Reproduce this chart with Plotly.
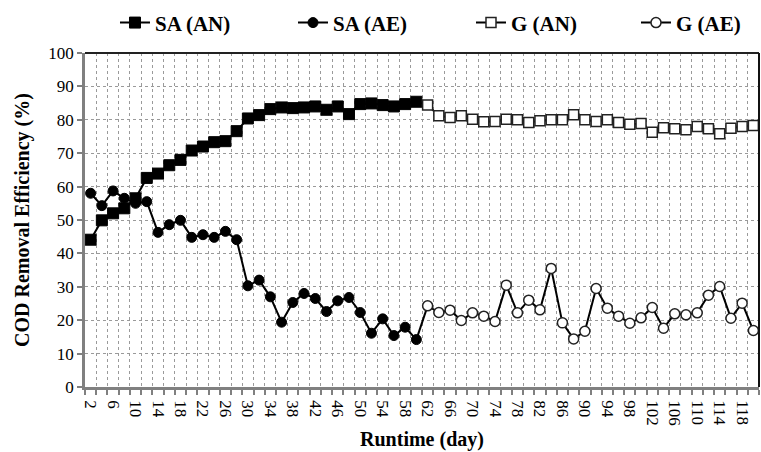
import plotly.graph_objects as go

# ---------------- data ----------------
days_sa = [2, 4, 6, 8, 10, 12, 14, 16, 18, 20, 22, 24, 26, 28, 30,
           32, 34, 36, 38, 40, 42, 44, 46, 48, 50, 52, 54, 56, 58, 60]
days_g = [62, 64, 66, 68, 70, 72, 74, 76, 78, 80, 82, 84, 86, 88, 90,
          92, 94, 96, 98, 100, 102, 104, 106, 108, 110, 112, 114, 116, 118, 120]

sa_an = [44.1, 49.9, 52.0, 53.5, 56.5, 62.6, 63.9, 66.4, 68.0, 70.8,
         72.0, 73.3, 73.6, 76.6, 80.4, 81.4, 83.2, 83.7, 83.5, 83.7,
         84.0, 83.0, 84.0, 81.7, 84.7, 84.9, 84.4, 84.0, 84.7, 85.4]
sa_ae = [58.0, 54.3, 58.7, 56.5, 55.0, 55.5, 46.3, 48.6, 49.9, 44.8,
         45.6, 44.8, 46.6, 44.1, 30.3, 32.0, 27.0, 19.4, 25.3, 28.0,
         26.5, 22.6, 25.8, 26.8, 22.3, 16.1, 20.4, 15.4, 17.9, 14.2]
g_an = [84.4, 81.2, 80.7, 81.2, 80.2, 79.4, 79.5, 80.2, 80.0, 79.2,
        79.7, 80.0, 80.0, 81.5, 80.0, 79.5, 80.0, 79.2, 78.7, 78.9,
        76.3, 77.6, 77.3, 77.0, 78.0, 77.3, 75.8, 77.5, 78.0, 78.3]
g_ae = [24.3, 22.3, 23.0, 19.9, 22.2, 21.2, 19.6, 30.5, 22.2, 26.0,
        23.1, 35.5, 19.2, 14.4, 16.7, 29.5, 23.6, 21.2, 19.1, 20.7,
        23.8, 17.6, 21.9, 21.6, 22.2, 27.5, 30.1, 20.6, 25.1, 16.9]

x_tick_vals = [2, 6, 10, 14, 18, 22, 26, 30, 34, 38, 42, 46, 50, 54, 58,
               62, 66, 70, 74, 78, 82, 86, 90, 94, 98, 102, 106, 110, 114, 118]
y_tick_vals = [0, 10, 20, 30, 40, 50, 60, 70, 80, 90, 100]

FONT = "Liberation Serif, Times New Roman, DejaVu Serif, serif"
LINE = dict(color="black", width=2)

fig = go.Figure()

# connectors between the two phases (from the arrays' end/start values)
fig.add_trace(go.Scatter(x=[days_sa[-1], days_g[0]], y=[sa_an[-1], g_an[0]],
                         mode="lines", line=LINE, showlegend=False, hoverinfo="skip"))
fig.add_trace(go.Scatter(x=[days_sa[-1], days_g[0]], y=[sa_ae[-1], g_ae[0]],
                         mode="lines", line=LINE, showlegend=False, hoverinfo="skip"))

fig.add_trace(go.Scatter(
    x=days_sa, y=sa_an, name="SA (AN)", mode="lines+markers", line=LINE, legend="legend",
    marker=dict(symbol="square", size=11, color="black", line=dict(color="black", width=1))))
fig.add_trace(go.Scatter(
    x=days_sa, y=sa_ae, name="SA (AE)", mode="lines+markers", line=LINE, legend="legend2",
    marker=dict(symbol="circle", size=10, color="black", line=dict(color="black", width=1))))
fig.add_trace(go.Scatter(
    x=days_g, y=g_an, name="G (AN)", mode="lines+markers", line=LINE, legend="legend3",
    marker=dict(symbol="square", size=10, color="white", line=dict(color="#222", width=1.5))))
fig.add_trace(go.Scatter(
    x=days_g, y=g_ae, name="G (AE)", mode="lines+markers", line=LINE, legend="legend4",
    marker=dict(symbol="circle", size=10, color="white", line=dict(color="#222", width=1.5))))


def leg(xp):
    return dict(orientation="h", x=xp, xanchor="left", y=1.09, yanchor="middle",
                font=dict(family=FONT, size=21, color="black", weight="bold"),
                bgcolor="rgba(0,0,0,0)", itemwidth=30)


fig.update_layout(
    width=761, height=452,
    margin=dict(l=85, r=2, t=51, b=65),
    paper_bgcolor="white", plot_bgcolor="white",
    font=dict(family=FONT, color="black", size=17),
    showlegend=True,
    legend=leg(0.0445), legend2=leg(0.3086), legend3=leg(0.5727), legend4=leg(0.8175),
    xaxis=dict(
        range=[1, 121], tickmode="array", tickvals=x_tick_vals,
        ticktext=[str(v) for v in x_tick_vals], tickangle=90,
        ticks="outside", ticklen=7, tickcolor="rgba(0,0,0,0)",
        showgrid=False, zeroline=False, automargin=False,
        showline=True, linecolor="#808080", linewidth=2.5,
        tickfont=dict(family=FONT, size=17, color="black"),
        minor=dict(tick0=1, dtick=2, showgrid=True, gridcolor="#9a9a9a",
                   griddash="dot", gridwidth=1, ticks="outside", ticklen=5,
                   tickcolor="#808080", tickwidth=1.5),
        title=dict(text="<b>Runtime (day)</b>", standoff=8,
                   font=dict(family=FONT, size=20, color="black")),
    ),
    yaxis=dict(
        range=[0, 100], tickmode="array", tickvals=y_tick_vals,
        ticks="outside", ticklen=5, tickcolor="#808080", tickwidth=1.5,
        showgrid=True, gridcolor="#9a9a9a", griddash="dot", gridwidth=1,
        zeroline=False, showline=True, linecolor="#808080", linewidth=2.5,
        automargin=False,
        tickfont=dict(family=FONT, size=17, color="black"),
        title=dict(text="<b>COD Removal Efficiency (%)</b>", standoff=14,
                   font=dict(family=FONT, size=20, color="black")),
    ),
    shapes=[
        dict(type="line", xref="paper", yref="paper", x0=0, x1=1, y0=1, y1=1,
             line=dict(color="#222", width=2)),
        dict(type="line", xref="paper", yref="paper", x0=1, x1=1, y0=0, y1=1,
             line=dict(color="#111", width=2)),
    ],
)

fig.write_html("out.html")
